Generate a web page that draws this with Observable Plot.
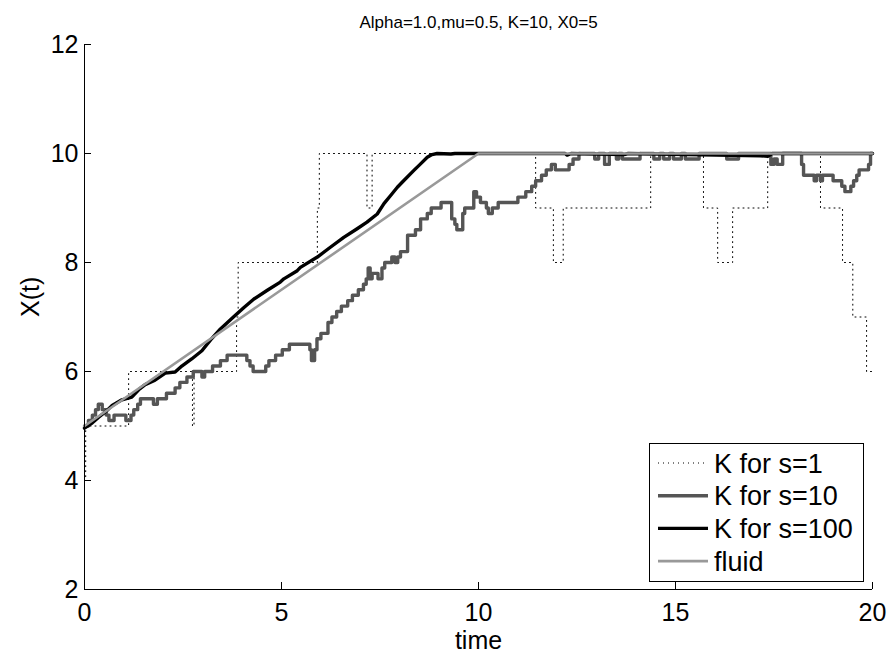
<!DOCTYPE html>
<html><head><meta charset="utf-8">
<script src="https://cdn.jsdelivr.net/npm/d3@7"></script>
<script src="https://cdn.jsdelivr.net/npm/@observablehq/plot@0.6"></script>
<style>
body{margin:0;background:#fff;font-family:"Liberation Sans",Arial,sans-serif}
#wrap{position:relative;width:890px;height:655px}
#legend{position:absolute;left:649px;top:443px}
</style>
</head><body><div id="wrap"></div>
<script>
const titleText = "Alpha=1.0,mu=0.5, K=10, X0=5";
const xLabel = "time";
const yLabel = "X(t)";
const xTicks = [0, 5, 10, 15, 20];
const yTicks = [2, 4, 6, 8, 10, 12];
const seriesNames = ["K for s=1", "K for s=10", "K for s=100", "fluid"];

// K for s=1 (step function, integer levels)
const s1 = [[0,4],[0.03,5],[1.12,6],[2.74,5],[2.78,6],[3.86,7],[3.9,8],[5.91,9],[5.96,10],[7.17,9],[7.3,10],
  [11.45,9],[11.9,8],[12.15,9],[14.37,10],[15.71,9],[16.07,8],[16.45,9],[17.34,10],[18.68,9],[19.24,8],
  [19.5,7],[19.85,6],[20,6]];

// K for s=10 (step function, 0.1 levels)
const s10 = [[0,5.0],[0.1,5.1],[0.2,5.2],[0.28,5.3],[0.35,5.4],[0.45,5.3],[0.55,5.2],[0.62,5.1],[0.75,5.2],
  [1.05,5.1],[1.18,5.2],[1.25,5.3],[1.35,5.4],[1.42,5.5],[1.75,5.4],[1.85,5.5],[2.08,5.6],[2.3,5.7],[2.42,5.8],
  [2.6,5.9],[2.76,6.0],[2.98,5.9],[3.05,6.0],[3.25,6.1],[3.45,6.2],[3.62,6.3],[4.12,6.2],[4.2,6.1],[4.28,6.0],
  [4.6,6.1],[4.68,6.2],[4.85,6.3],[5.02,6.4],[5.2,6.5],[5.72,6.4],[5.76,6.2],[5.84,6.4],[5.9,6.6],[6.0,6.7],
  [6.18,6.9],[6.28,7.0],[6.4,7.1],[6.52,7.2],[6.68,7.3],[6.8,7.4],[6.95,7.5],[7.08,7.6],[7.15,7.7],[7.2,7.9],
  [7.25,7.7],[7.3,7.8],[7.45,7.7],[7.55,7.9],[7.62,8.0],[7.8,8.1],[7.88,8.0],[7.95,8.1],[8.02,8.2],[8.2,8.5],
  [8.4,8.6],[8.53,8.8],[8.7,8.9],[8.8,9.0],[9.05,9.1],[9.32,8.8],[9.4,8.7],[9.45,8.6],[9.6,8.9],[9.65,9.0],
  [9.88,9.3],[9.95,9.2],[10.05,9.1],[10.2,9.0],[10.25,8.9],[10.35,9.0],[10.5,9.1],[11.0,9.2],[11.2,9.3],
  [11.35,9.4],[11.45,9.5],[11.6,9.6],[11.72,9.7],[11.85,9.8],[11.95,9.7],[12.3,9.8],[12.4,9.9],[12.55,10],
  [12.95,9.9],[13.05,10],[13.2,9.8],[13.32,10],[13.5,9.9],[13.56,10],[13.65,9.9],[14.1,10],[14.45,9.9],
  [14.6,10],[14.7,9.9],[14.85,10],[14.95,9.9],[15.15,10],[15.25,9.9],[15.6,10],[16.3,9.9],[16.6,10],
  [17.42,9.8],[17.5,9.9],[17.58,9.8],[17.72,10],[18.2,9.8],[18.25,9.6],[18.52,9.5],[18.58,9.6],[18.68,9.5],
  [18.73,9.6],[19.0,9.5],[19.22,9.4],[19.3,9.3],[19.45,9.4],[19.52,9.5],[19.6,9.6],[19.66,9.7],[19.9,9.8],
  [19.95,10],[20,10]];

// K for s=100 (fine steps, drawn as a line)
const s100 = [[0,4.96],[0.2,5.06],[0.36,5.16],[0.55,5.27],[0.69,5.37],[0.95,5.48],[1.2,5.53],[1.4,5.68],
  [1.54,5.76],[1.79,5.84],[2.05,5.97],[2.3,5.99],[2.47,6.1],[2.72,6.23],[2.98,6.38],[3.2,6.58],[3.45,6.78],
  [3.78,7.0],[4.04,7.17],[4.3,7.33],[4.64,7.49],[4.97,7.64],[5.06,7.7],[5.4,7.85],[5.48,7.91],[5.91,8.1],
  [6.24,8.28],[6.58,8.46],[6.92,8.62],[7.17,8.74],[7.43,8.89],[7.6,9.08],[7.77,9.23],[7.94,9.38],[8.1,9.5],
  [8.36,9.69],[8.53,9.81],[8.7,9.93],[8.82,9.98],[8.95,10],[9.3,9.99],[9.4,10],[12.2,10],[12.25,9.97],
  [12.35,10],[13.7,9.98],[13.8,10],[17.15,9.96],[17.35,9.95],[17.45,10],[20,10]];

// fluid approximation
const fluid = [[0,5],[10,10],[20,10]];

const styles = [
  {stroke:"#000", strokeWidth:1, dash:"1,4"},
  {stroke:"#555", strokeWidth:3.4, dash:null},
  {stroke:"#000", strokeWidth:3.4, dash:null},
  {stroke:"#999", strokeWidth:2.6, dash:null}
];
const seriesData = [s1, s10, s100, fluid];
const curves = ["step-after", "step-after", "linear", "linear"];

const W = 890, H = 655, mL = 84, mR = 18, mT = 44, mB = 66;
const fw = W - mL - mR, fh = H - mT - mB;
const font = "'Liberation Sans', Arial, sans-serif";

const marks = [];
seriesData.forEach((data, i) => {
  marks.push(Plot.line(data, {x: d => d[0], y: d => d[1], curve: curves[i], stroke: styles[i].stroke,
    strokeWidth: styles[i].strokeWidth, strokeDasharray: styles[i].dash, strokeLinejoin: "round"}));
});
marks.push(
  Plot.ruleX([0], {stroke: "#000", strokeWidth: 1}),
  Plot.ruleY([2], {stroke: "#000", strokeWidth: 1}),
  Plot.tickX(xTicks, {x: d => d, insetTop: fh - 7, stroke: "#000"}),
  Plot.tickY(yTicks, {y: d => d, insetRight: fw - 7, stroke: "#000"}),
  Plot.axisX({ticks: xTicks, tickSize: 0, tickPadding: 14, fontSize: 25, label: null, tickFormat: d => String(d)}),
  Plot.axisY({ticks: yTicks, tickSize: 0, tickPadding: 6, fontSize: 25, label: null, tickFormat: d => String(d)}),
  Plot.text([titleText], {frameAnchor: "top", dy: -29, fontSize: 17}),
  Plot.text([xLabel], {frameAnchor: "bottom", dy: 59, fontSize: 25}),
  Plot.text([yLabel], {frameAnchor: "left", dx: -54, rotate: -90, fontSize: 25})
);

const chart = Plot.plot({
  width: W, height: H, marginLeft: mL, marginRight: mR, marginTop: mT, marginBottom: mB,
  x: {domain: [0, 20], axis: null},
  y: {domain: [2, 12], axis: null},
  style: {fontFamily: font, background: "#fff", color: "#000"},
  marks
});
const wrap = document.getElementById("wrap");
wrap.appendChild(chart);

// legend
const lw = 214, lh = 138, rowH = 32.7;
const leg = d3.select(wrap).append("svg").attr("id", "legend").attr("width", lw + 1).attr("height", lh + 1);
leg.append("rect").attr("x", 0.5).attr("y", 0.5).attr("width", lw).attr("height", lh)
  .attr("fill", "#fff").attr("stroke", "#000").attr("stroke-width", 1);
seriesNames.forEach((name, i) => {
  const cy = 20 + i * rowH;
  leg.append("line").attr("x1", 9).attr("x2", 59).attr("y1", cy).attr("y2", cy)
    .attr("stroke", styles[i].stroke).attr("stroke-width", styles[i].strokeWidth)
    .attr("stroke-dasharray", styles[i].dash);
  leg.append("text").attr("x", 65).attr("y", cy).attr("dy", "0.36em")
    .attr("font-family", font).attr("font-size", 27).text(name);
});
</script>
</body></html>
